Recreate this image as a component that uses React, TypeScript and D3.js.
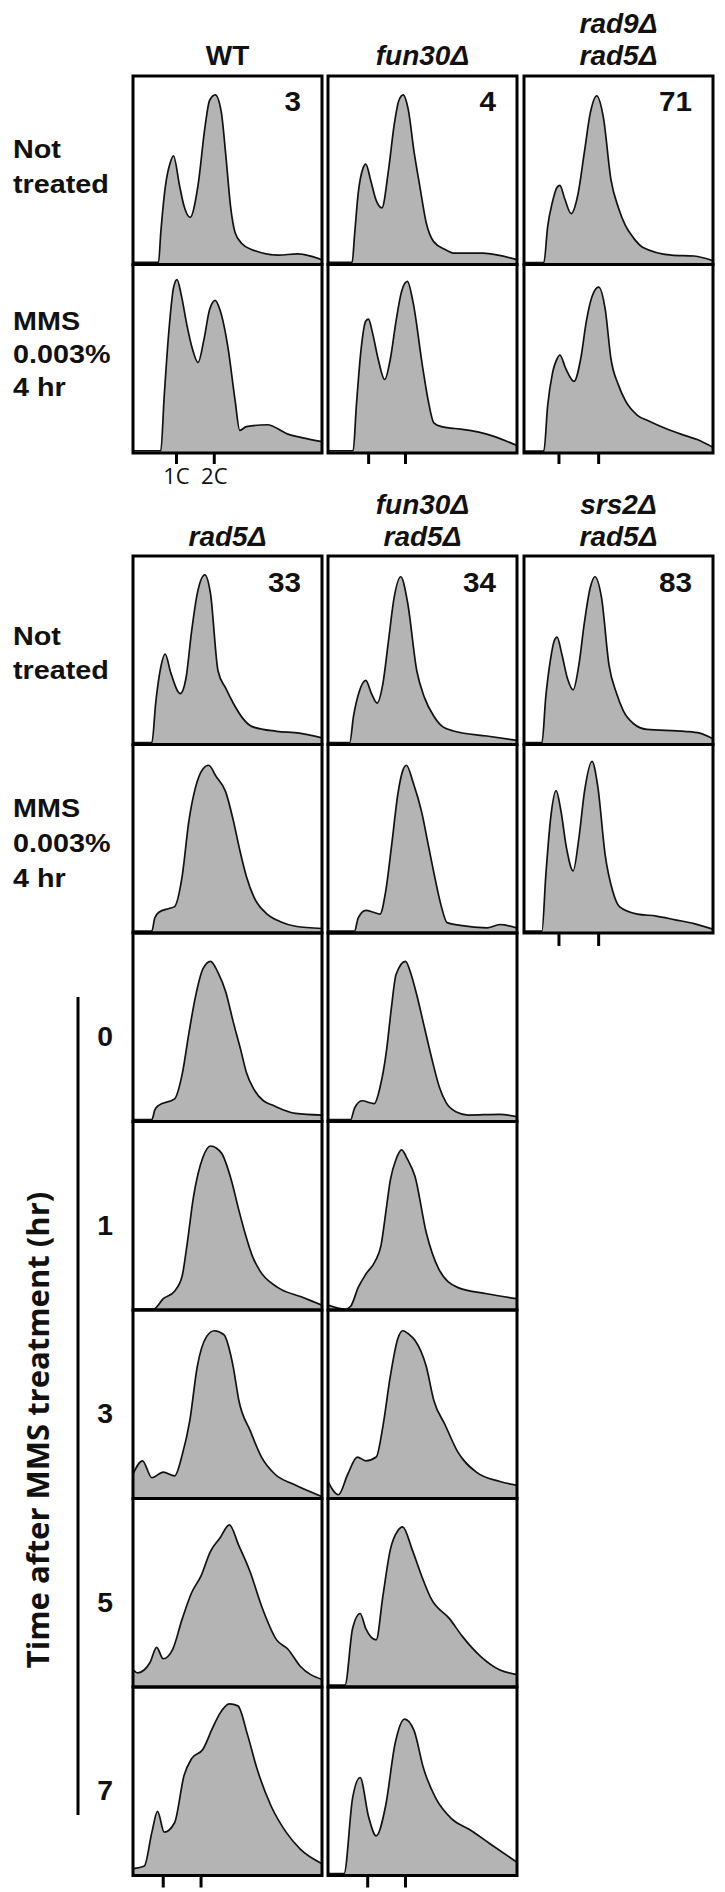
import React from 'react';
import * as d3 from 'd3';

type Pt = [number, number];

// headers, numbers and labels
const topHeaders = [['WT'], ['fun30Δ'], ['rad9Δ', 'rad5Δ']];
const midHeaders = [['rad5Δ'], ['fun30Δ', 'rad5Δ'], ['srs2Δ', 'rad5Δ']];
const topNumbers = ['3', '4', '71'];
const midNumbers = ['33', '34', '83'];
const timeLabels = ['0', '1', '3', '5', '7'];
const ploidyLabels = ['1C', '2C'];
const rowNotTreated = ['Not', 'treated'];
const rowMMS = ['MMS', '0.003%', '4 hr'];
const timeTitle = 'Time after MMS treatment (hr)';

// 1C / 2C tick positions (fraction of the DNA-content axis)
const topTicks = [[0.23, 0.43], [0.215, 0.41], [0.185, 0.395]];
const midTicks = [0.185, 0.395];
const timeTicks = [[0.16, 0.36], [0.21, 0.41]];

// histograms: [DNA content fraction, relative cell count]
const wtNT: Pt[] = [[0,0.012],[0.135,0.012],[0.147,0.17],[0.172,0.42],[0.197,0.54],[0.214,0.577],[0.246,0.42],[0.27,0.31],[0.302,0.25],[0.344,0.42],[0.381,0.73],[0.405,0.87],[0.435,0.9],[0.467,0.81],[0.491,0.58],[0.516,0.31],[0.54,0.17],[0.577,0.11],[0.627,0.08],[0.77,0.05],[0.87,0.056],[1,0.026]];
const fun30NT: Pt[] = [[0,0.012],[0.128,0.012],[0.14,0.15],[0.16,0.38],[0.185,0.51],[0.2,0.533],[0.225,0.45],[0.255,0.34],[0.285,0.3],[0.32,0.5],[0.35,0.74],[0.375,0.87],[0.398,0.9],[0.425,0.82],[0.455,0.6],[0.485,0.42],[0.52,0.22],[0.56,0.12],[0.62,0.08],[0.67,0.06],[0.82,0.06],[0.9,0.05],[1,0.026]];
const rad9rad5NT: Pt[] = [[0,0.01],[0.105,0.01],[0.125,0.2],[0.15,0.33],[0.175,0.41],[0.19,0.42],[0.215,0.35],[0.25,0.27],[0.285,0.37],[0.32,0.6],[0.35,0.8],[0.385,0.895],[0.42,0.78],[0.46,0.45],[0.5,0.3],[0.535,0.21],[0.58,0.14],[0.63,0.09],[0.78,0.05],[0.9,0.045],[1,0.02]];
const wtMMS: Pt[] = [[0,0.012],[0.147,0.012],[0.165,0.3],[0.19,0.65],[0.215,0.88],[0.233,0.92],[0.255,0.84],[0.285,0.68],[0.315,0.55],[0.344,0.48],[0.375,0.6],[0.405,0.76],[0.435,0.81],[0.46,0.76],[0.504,0.55],[0.54,0.28],[0.565,0.12],[0.6,0.14],[0.71,0.15],[0.82,0.1],[0.9,0.08],[1,0.06]];
const fun30MMS: Pt[] = [[0,0.012],[0.133,0.012],[0.15,0.25],[0.175,0.55],[0.2,0.7],[0.214,0.71],[0.235,0.64],[0.265,0.5],[0.3,0.39],[0.33,0.5],[0.36,0.7],[0.39,0.86],[0.42,0.91],[0.45,0.8],[0.5,0.46],[0.53,0.28],[0.56,0.16],[0.6,0.14],[0.67,0.13],[0.75,0.12],[0.84,0.1],[0.9,0.08],[1,0.04]];
const rad9rad5MMS: Pt[] = [[0,0.01],[0.105,0.01],[0.125,0.25],[0.15,0.42],[0.175,0.5],[0.19,0.52],[0.22,0.45],[0.265,0.38],[0.3,0.5],[0.33,0.7],[0.36,0.83],[0.395,0.88],[0.43,0.76],[0.46,0.5],[0.5,0.36],[0.535,0.28],[0.6,0.2],[0.66,0.17],[0.75,0.13],[0.83,0.1],[0.92,0.07],[1,0.03]];

const rad5NT: Pt[] = [[0,0.01],[0.1,0.01],[0.12,0.22],[0.145,0.4],[0.17,0.48],[0.2,0.38],[0.25,0.27],[0.28,0.35],[0.31,0.6],[0.34,0.8],[0.38,0.9],[0.41,0.8],[0.45,0.39],[0.49,0.3],[0.53,0.22],[0.58,0.14],[0.63,0.095],[0.76,0.07],[0.88,0.06],[1,0.035]];
const fun30rad5NT: Pt[] = [[0,0.01],[0.115,0.01],[0.135,0.15],[0.165,0.28],[0.2,0.34],[0.23,0.27],[0.26,0.22],[0.29,0.32],[0.32,0.55],[0.35,0.78],[0.385,0.89],[0.42,0.76],[0.47,0.39],[0.51,0.25],[0.56,0.15],[0.6,0.1],[0.67,0.07],[0.84,0.045],[1,0.022]];
const srs2rad5NT: Pt[] = [[0,0.01],[0.095,0.01],[0.115,0.25],[0.14,0.45],[0.16,0.55],[0.175,0.57],[0.2,0.48],[0.23,0.35],[0.26,0.29],[0.29,0.42],[0.32,0.65],[0.35,0.83],[0.375,0.89],[0.41,0.78],[0.45,0.42],[0.49,0.27],[0.525,0.18],[0.58,0.11],[0.65,0.08],[0.85,0.07],[0.93,0.06],[1,0.03]];
const rad5MMS: Pt[] = [[0,0.01],[0.1,0.01],[0.115,0.08],[0.137,0.11],[0.19,0.13],[0.22,0.14],[0.26,0.3],[0.295,0.59],[0.33,0.77],[0.37,0.87],[0.4,0.89],[0.44,0.83],[0.49,0.75],[0.53,0.6],[0.565,0.44],[0.6,0.3],[0.64,0.19],[0.71,0.1],[0.78,0.06],[0.86,0.036],[1,0.024]];
const fun30rad5MMS: Pt[] = [[0,0.01],[0.14,0.01],[0.16,0.08],[0.2,0.12],[0.24,0.11],[0.275,0.1],[0.305,0.22],[0.336,0.46],[0.37,0.74],[0.395,0.86],[0.415,0.89],[0.45,0.8],[0.496,0.64],[0.53,0.47],[0.56,0.32],[0.6,0.14],[0.63,0.055],[0.7,0.04],[0.84,0.027],[0.91,0.045],[1,0.027]];
const srs2rad5MMS: Pt[] = [[0,0.01],[0.095,0.01],[0.115,0.3],[0.14,0.6],[0.17,0.755],[0.195,0.65],[0.225,0.45],[0.26,0.33],[0.29,0.5],[0.32,0.75],[0.36,0.91],[0.39,0.78],[0.43,0.41],[0.47,0.22],[0.505,0.14],[0.6,0.1],[0.7,0.09],[0.8,0.07],[0.9,0.05],[1,0.02]];

const rad5T0: Pt[] = [[0,0.01],[0.1,0.01],[0.115,0.06],[0.136,0.086],[0.22,0.12],[0.26,0.25],[0.296,0.47],[0.33,0.66],[0.37,0.81],[0.41,0.85],[0.45,0.79],[0.49,0.69],[0.53,0.53],[0.57,0.38],[0.6,0.26],[0.64,0.17],[0.69,0.11],[0.74,0.086],[0.86,0.043],[1,0.034]];
const fun30rad5T0: Pt[] = [[0,0.01],[0.12,0.01],[0.14,0.07],[0.18,0.11],[0.245,0.095],[0.275,0.18],[0.31,0.38],[0.335,0.6],[0.36,0.78],[0.41,0.85],[0.44,0.78],[0.47,0.67],[0.51,0.5],[0.55,0.33],[0.59,0.18],[0.625,0.1],[0.68,0.05],[0.74,0.034],[0.91,0.038],[1,0.026]];
const rad5T1: Pt[] = [[0,0.005],[0.11,0.005],[0.16,0.06],[0.22,0.1],[0.26,0.18],[0.285,0.34],[0.32,0.6],[0.37,0.81],[0.41,0.87],[0.44,0.86],[0.47,0.83],[0.52,0.69],[0.56,0.53],[0.595,0.4],[0.63,0.29],[0.67,0.21],[0.765,0.12],[0.89,0.07],[1,0.026]];
const fun30rad5T1: Pt[] = [[0,0.026],[0.09,0.004],[0.12,0.02],[0.16,0.12],[0.2,0.19],[0.25,0.26],[0.28,0.34],[0.31,0.55],[0.33,0.69],[0.36,0.8],[0.39,0.85],[0.42,0.8],[0.46,0.71],[0.52,0.41],[0.585,0.22],[0.685,0.12],[0.84,0.086],[1,0.06]];
const rad5T3: Pt[] = [[0,0.13],[0.05,0.2],[0.1,0.11],[0.16,0.14],[0.22,0.12],[0.26,0.23],[0.3,0.41],[0.34,0.7],[0.39,0.86],[0.43,0.89],[0.48,0.87],[0.53,0.7],[0.56,0.52],[0.62,0.36],[0.68,0.22],[0.75,0.13],[0.85,0.075],[1,0.01]];
const fun30rad5T3: Pt[] = [[0,0.09],[0.055,0.02],[0.105,0.13],[0.155,0.22],[0.2,0.2],[0.255,0.22],[0.29,0.38],[0.33,0.65],[0.37,0.85],[0.395,0.89],[0.43,0.87],[0.46,0.84],[0.52,0.7],[0.56,0.52],[0.62,0.39],[0.685,0.25],[0.785,0.14],[0.91,0.09],[1,0.07]];
const rad5T5: Pt[] = [[0,0.093],[0.025,0.075],[0.09,0.13],[0.125,0.21],[0.16,0.15],[0.21,0.2],[0.26,0.36],[0.31,0.5],[0.36,0.59],[0.41,0.72],[0.46,0.79],[0.51,0.86],[0.56,0.75],[0.62,0.61],[0.68,0.43],[0.76,0.25],[0.82,0.2],[0.885,0.11],[1,0.04]];
const fun30rad5T5: Pt[] = [[0,0.01],[0.09,0.01],[0.13,0.31],[0.17,0.39],[0.2,0.31],[0.255,0.25],[0.29,0.48],[0.33,0.73],[0.37,0.83],[0.395,0.85],[0.445,0.73],[0.495,0.59],[0.545,0.47],[0.645,0.36],[0.71,0.27],[0.81,0.16],[0.91,0.09],[1,0.066]];
const rad5T7: Pt[] = [[0,0.036],[0.06,0.05],[0.1,0.23],[0.13,0.34],[0.165,0.23],[0.22,0.28],[0.27,0.53],[0.31,0.62],[0.37,0.67],[0.42,0.78],[0.46,0.86],[0.51,0.91],[0.555,0.9],[0.605,0.75],[0.655,0.57],[0.73,0.37],[0.81,0.23],[0.885,0.14],[1,0.063]];
const fun30rad5T7: Pt[] = [[0,0.01],[0.085,0.01],[0.13,0.41],[0.17,0.52],[0.215,0.31],[0.255,0.21],[0.305,0.37],[0.355,0.7],[0.405,0.83],[0.455,0.77],[0.505,0.57],[0.57,0.41],[0.655,0.3],[0.755,0.24],[0.855,0.17],[1,0.07]];

const topRows = [[wtNT, fun30NT, rad9rad5NT], [wtMMS, fun30MMS, rad9rad5MMS]];
const midRows = [[rad5NT, fun30rad5NT, srs2rad5NT], [rad5MMS, fun30rad5MMS, srs2rad5MMS]];
const timeRows = [[rad5T0, fun30rad5T0], [rad5T1, fun30rad5T1], [rad5T3, fun30rad5T3], [rad5T5, fun30rad5T5], [rad5T7, fun30rad5T7]];

const W = 725;
const H = 1892;
const colLeft = [133, 328, 524];
const panelW = 189;
const rowH = 188.5;
const topY = 76;
const midY = 556;
const FILL = '#b4b4b4';
const SANS = '"Liberation Sans", Arial, sans-serif';

let clipId = 0;

const Panel = ({ x0, y0, data }: { x0: number; y0: number; data: Pt[] }) => {
  const x = d3.scaleLinear().domain([0, 1]).range([x0, x0 + panelW]);
  const y = d3.scaleLinear().domain([0, 1]).range([y0 + rowH, y0]);
  const area = d3.area<Pt>().x(d => x(d[0])).y0(y(0)).y1(d => y(d[1])).curve(d3.curveMonotoneX);
  const line = d3.line<Pt>().x(d => x(d[0])).y(d => y(d[1])).curve(d3.curveMonotoneX);
  const id = `clip${clipId++}`;
  return (
    <g>
      <clipPath id={id}>
        <rect x={x0} y={y0} width={panelW} height={rowH} />
      </clipPath>
      <g clipPath={`url(#${id})`}>
        <path d={area(data) || ''} fill={FILL} />
        <path d={line(data) || ''} fill="none" stroke="#111" strokeWidth={1.7} />
      </g>
      <rect x={x0} y={y0} width={panelW} height={rowH} fill="none" stroke="#000" strokeWidth={3} />
    </g>
  );
};

const Ticks = ({ x0, y0, ticks, len }: { x0: number; y0: number; ticks: number[]; len: number }) => {
  const x = d3.scaleLinear().domain([0, 1]).range([x0, x0 + panelW]);
  return (
    <g>
      {ticks.map((t, i) => (
        <line key={i} x1={x(t)} x2={x(t)} y1={y0} y2={y0 + len} stroke="#000" strokeWidth={3} />
      ))}
    </g>
  );
};

const Wide = ({ x, y, children, anchor = 'start', size = 25, sx = 1.15 }: any) => (
  <text
    transform={`translate(${x},${y}) scale(${sx},1)`}
    textAnchor={anchor}
    fontFamily={SANS}
    fontWeight="bold"
    fontSize={size}
    fill="#111"
  >
    {children}
  </text>
);

const Header = ({ lines, cx, baseline }: { lines: string[]; cx: number; baseline: number }) => (
  <g>
    {lines.map((l, i) => (
      <text
        key={i}
        x={cx}
        y={baseline - (lines.length - 1 - i) * 32}
        textAnchor="middle"
        fontFamily={SANS}
        fontWeight="bold"
        fontStyle={l === 'WT' ? 'normal' : 'italic'}
        fontSize={28}
        fill="#111"
      >
        {l}
      </text>
    ))}
  </g>
);

export default function App() {
  clipId = 0;
  const timeTop = midY + 2 * rowH;
  const timeBottom = timeTop + timeRows.length * rowH;
  const x1 = d3.scaleLinear().domain([0, 1]).range([colLeft[0], colLeft[0] + panelW]);
  return (
    <svg
      width={W}
      height={H}
      viewBox={`0 0 ${W} ${H}`}
      style={{ position: 'absolute', left: 0, top: 0, background: '#fff' }}
    >
      {/* top group */}
      {topHeaders.map((h, c) => (
        <Header key={`th${c}`} lines={h} cx={colLeft[c] + panelW / 2} baseline={65} />
      ))}
      {topRows.map((row, r) =>
        row.map((d, c) => <Panel key={`t${r}${c}`} x0={colLeft[c]} y0={topY + r * rowH} data={d} />)
      )}
      {topNumbers.map((n, c) => (
        <Wide key={`tn${c}`} x={colLeft[c] + panelW - 21} y={topY + 35} anchor="end" size={27} sx={1.1}>
          {n}
        </Wide>
      ))}
      {topTicks.map((t, c) => (
        <Ticks key={`tt${c}`} x0={colLeft[c]} y0={topY + 2 * rowH} ticks={t} len={11} />
      ))}
      {ploidyLabels.map((l, i) => (
        <text
          key={l}
          x={x1(topTicks[0][i])}
          y={484}
          textAnchor="middle"
          fontFamily='"Open Sans", sans-serif'
          fontSize={22}
          fill="#111"
        >
          {l}
        </text>
      ))}
      {rowNotTreated.map((l, i) => (
        <Wide key={`nt1${i}`} x={13} y={158 + i * 35}>{l}</Wide>
      ))}
      {rowMMS.map((l, i) => (
        <Wide key={`m1${i}`} x={13} y={330 + i * 33}>{l}</Wide>
      ))}

      {/* middle group */}
      {midHeaders.map((h, c) => (
        <Header key={`mh${c}`} lines={h} cx={colLeft[c] + panelW / 2} baseline={546} />
      ))}
      {midRows.map((row, r) =>
        row.map((d, c) => <Panel key={`m${r}${c}`} x0={colLeft[c]} y0={midY + r * rowH} data={d} />)
      )}
      {midNumbers.map((n, c) => (
        <Wide key={`mn${c}`} x={colLeft[c] + panelW - 21} y={midY + 36} anchor="end" size={27} sx={1.1}>
          {n}
        </Wide>
      ))}
      <Ticks x0={colLeft[2]} y0={midY + 2 * rowH} ticks={midTicks} len={13} />
      {rowNotTreated.map((l, i) => (
        <Wide key={`nt2${i}`} x={13} y={645 + i * 34}>{l}</Wide>
      ))}
      {rowMMS.map((l, i) => (
        <Wide key={`m2${i}`} x={13} y={817 + i * 35}>{l}</Wide>
      ))}

      {/* time course */}
      {timeRows.map((row, r) =>
        row.map((d, c) => <Panel key={`tc${r}${c}`} x0={colLeft[c]} y0={timeTop + r * rowH} data={d} />)
      )}
      {timeTicks.map((t, c) => (
        <Ticks key={`tct${c}`} x0={colLeft[c]} y0={timeBottom} ticks={t} len={12} />
      ))}
      {timeLabels.map((l, r) => (
        <Wide key={`tl${r}`} x={105} y={timeTop + r * rowH + rowH / 2 + 19} anchor="middle" size={27} sx={1.05}>
          {l}
        </Wide>
      ))}
      <line x1={78} x2={78} y1={997} y2={1815} stroke="#000" strokeWidth={3} />
      <text
        transform={`translate(49,1430) rotate(-90)`}
        textAnchor="middle"
        fontFamily='"Open Sans", sans-serif'
        fontWeight="bold"
        fontSize={31}
        fill="#111"
      >
        {timeTitle}
      </text>
    </svg>
  );
}
